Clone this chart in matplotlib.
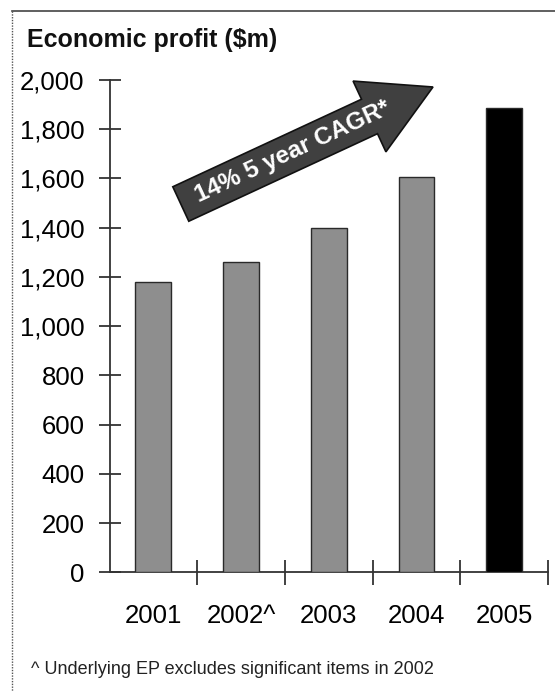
import numpy as np
import matplotlib.pyplot as plt
from matplotlib.patches import Polygon
from matplotlib.ticker import StrMethodFormatter

plt.rcParams['font.family'] = ['Liberation Sans', 'DejaVu Sans']

# --- data ---
years = ['2001', '2002^', '2003', '2004', '2005']
profit = [1180, 1260, 1400, 1605, 1885]
bar_colors = ['#8e8e8e', '#8e8e8e', '#8e8e8e', '#8e8e8e', '#000000']
y_ticks = [0, 200, 400, 600, 800, 1000, 1200, 1400, 1600, 1800, 2000]

TITLE = 'Economic profit ($m)'
ARROW_LABEL = '14% 5 year CAGR*'
FOOTNOTE = '^ Underlying EP excludes significant items in 2002'

W, H = 555, 691
fig = plt.figure(figsize=(W / 100, H / 100), dpi=100)

# main chart axes, placed in pixel terms
left, right, top, bottom = 109.6, 548, 80, 572.3
ax = fig.add_axes([left / W, 1 - bottom / H, (right - left) / W, (bottom - top) / H])

x = np.arange(len(years))
ax.bar(x, profit, width=0.41, color=bar_colors, edgecolor='#2a2a2a', linewidth=1.0, zorder=3)

ax.set_xlim(-0.5, len(years) - 0.5)
ax.set_ylim(0, 2000)
ax.set_yticks(y_ticks)
ax.yaxis.set_major_formatter(StrMethodFormatter('{x:,.0f}'))
ax.set_xticks(x + 0.5)
ax.set_xticklabels([])
ax.set_xticks(x, minor=True)
ax.set_xticklabels(years, minor=True)

for s in ['top', 'right']:
    ax.spines[s].set_visible(False)
for s in ['left', 'bottom']:
    ax.spines[s].set_linewidth(1.3)
    ax.spines[s].set_color('#333333')

ax.tick_params(axis='y', direction='inout', length=16, width=1.3, color='#333333',
               labelsize=18.5, pad=10)
ax.tick_params(axis='x', which='major', direction='inout', length=18, width=1.3,
               color='#333333')
ax.tick_params(axis='x', which='minor', length=0, labelsize=18.5, pad=23)
ax.set_facecolor('none')

# overlay in pixel coordinates for the frame, arrow and text
ov = fig.add_axes([0, 0, 1, 1], zorder=5)
ov.set_xlim(0, W)
ov.set_ylim(H, 0)
ov.axis('off')
ov.patch.set_alpha(0)

# frame
ov.plot([12, W], [11, 11], color='#444444', lw=1.2)
ov.plot([12, 12], [11, H], color='#555555', lw=1.0, ls=(0, (1, 1)))

# growth arrow
tail = np.array([180.8, 204.0])
tip = np.array([433.0, 87.0])
body_w, head_w, head_len = 38, 78, 70
d = tip - tail
L = np.hypot(*d)
u = d / L
n = np.array([u[1], -u[0]])
base = tip - u * head_len
pts = [tail + n * body_w / 2, base + n * body_w / 2, base + n * head_w / 2, tip,
       base - n * head_w / 2, base - n * body_w / 2, tail - n * body_w / 2]
ov.add_patch(Polygon(pts, closed=True, facecolor='#404040', edgecolor='#111111', lw=1.2))
ang = np.degrees(np.arctan2(-d[1], d[0]))
mid = tail + u * 123
ov.text(mid[0], mid[1], ARROW_LABEL, rotation=ang, rotation_mode='anchor',
        ha='center', va='center', color='white', fontsize=17.5, fontweight='bold')

# title and footnote
ov.text(27, 40, TITLE, ha='left', va='center', fontsize=18, fontweight='bold', color='#111111')
ov.text(31, 670, FOOTNOTE, ha='left', va='center', fontsize=13, color='#222222')

fig.savefig('out.png', dpi=100)
